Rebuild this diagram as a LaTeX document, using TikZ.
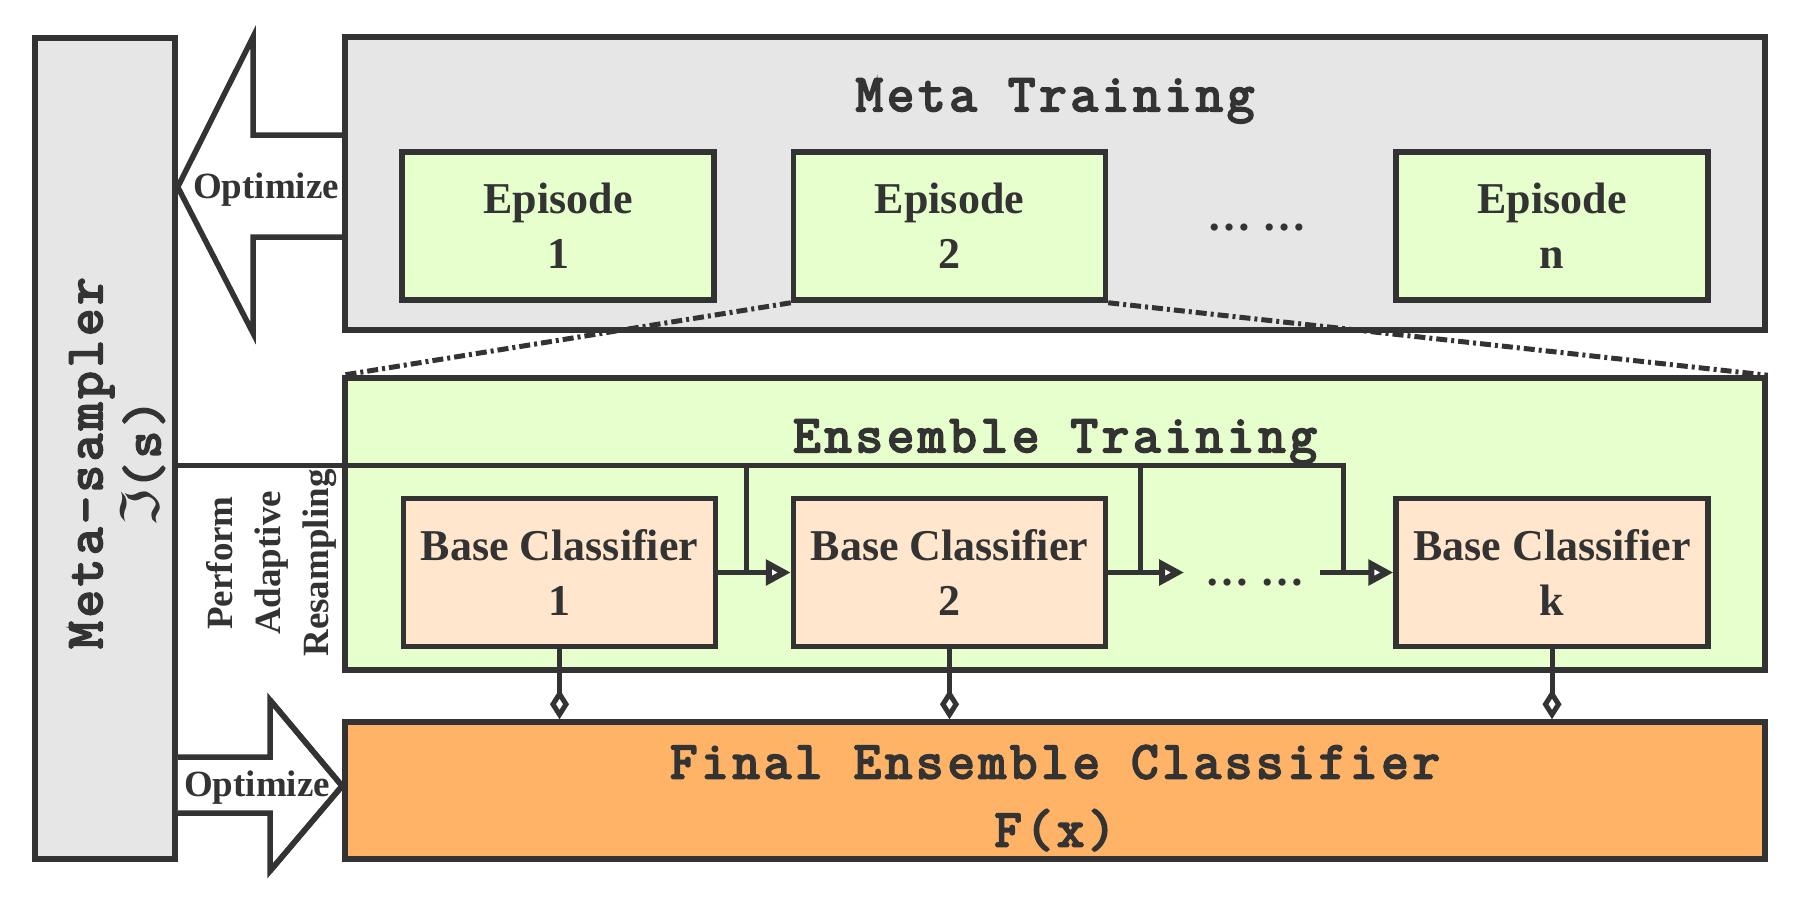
\documentclass[tikz,border=0pt]{standalone}
\usepackage{fontspec}
\setmainfont{Liberation Serif}
\newfontfamily\monof[FakeBold=4,LetterSpace=7.5]{Latin Modern Mono}
\newfontfamily\dejav{DejaVu Sans}
\usetikzlibrary{arrows.meta,calc}
\definecolor{lc}{HTML}{333333}
\definecolor{gbg}{HTML}{E6E6E6}
\definecolor{grn}{HTML}{E6FFCC}
\definecolor{peach}{HTML}{FFE6CC}
\definecolor{orng}{HTML}{FFB366}
\tikzset{
  box/.style={draw=lc, line width=5.5pt, rectangle, inner sep=0pt, text=lc, align=center},
  bigbox/.style={box, minimum width=1420pt, minimum height=292pt},
  smallbox/.style={box, minimum width=312pt, minimum height=148pt,
     font=\bfseries\fontsize{44}{55}\selectfont},
  titletxt/.style={text=lc, inner sep=0pt, font=\monof\fontsize{53}{68}\selectfont, align=center},
  serifb/.style={text=lc, inner sep=0pt, font=\bfseries\fontsize{44}{55}\selectfont},
  opttxt/.style={text=lc, inner sep=0pt, font=\bfseries\fontsize{37}{48}\selectfont, align=center},
  conn/.style={draw=lc, line width=5pt},
  fatarrow/.style={draw=lc, fill=white, line width=5.5pt, line join=miter},
  tri/.style={-{Triangle[length=25pt, width=25pt, fill=white, line width=6pt]}},
  dia/.style={-{Diamond[length=30pt, width=19pt, fill=white, line width=5pt]}},
  dashdot/.style={draw=lc, line width=5pt, dash pattern=on 11pt off 4pt on 3pt off 4pt}
}
\begin{document}
\begin{tikzpicture}[x=1pt,y=-1pt]
\useasboundingbox[fill=white] (0,0) rectangle (1800,898);

% left bar
\node[box, fill=gbg, minimum width=140pt, minimum height=821pt] (bar) at (105,448.5) {};

% optimize arrows
\draw[fatarrow] (343,135) -- (253,135) -- (253,37) -- (bar.east |- 0,187)
   -- (253,333) -- (253,237) -- (343,237);
\draw[fatarrow] (bar.east |- 0,757) -- (270,757) -- (270,700) -- (342,786)
   -- (270,871) -- (270,813) -- (bar.east |- 0,813);

% big boxes
\node[bigbox, fill=gbg, minimum height=293pt] (meta) at (1055,183.5) {};
\node[bigbox, fill=grn] (ens) at (1055,524) {};
\node[bigbox, fill=orng, minimum height=137pt] (final) at (1055,790.5) {};

% tip of the arrow into the final box
\draw[fatarrow, fill=none] (270,700) -- (final.west |- 0,786) -- (270,871);

% titles
\node[titletxt, anchor=base] (metat) at (1055,111) {Meta Training};
\node[titletxt, anchor=base] (enst) at (1055,452) {Ensemble Training};
\node[titletxt] (finalt) at (1055,798) {Final Ensemble Classifier\\F(x)};

% meta-sampler label
\node[titletxt, rotate=90, font=\monof\fontsize{53}{58}\selectfont] (mst) at (117,463) {Meta-sampler\\{\dejav ℑ}(s)};

% optimize labels
\node[opttxt] (opt1) at (266,190) {Optimize};
\node[opttxt] (opt2) at (257,788) {Optimize};
\node[opttxt, rotate=90] (par) at (272,563) {Perform\\Adaptive\\Resampling};

% episodes
\node[smallbox, fill=grn] (ep1) at (558,226) {Episode\\1};
\node[smallbox, fill=grn] (ep2) at (949.5,226) {Episode\\2};
\node[smallbox, fill=grn] (epn) at (1552,226) {Episode\\n};
\node[serifb, anchor=base] (edots) at (1257,230) {… …};

% base classifiers
\node[smallbox, fill=peach] (bc1) at (559.5,572.5) {Base Classifier\\1};
\node[smallbox, fill=peach] (bc2) at (949.5,572.5) {Base Classifier\\2};
\node[smallbox, fill=peach] (bck) at (1552,572.5) {Base Classifier\\k};
\node[serifb, anchor=base] (bdots) at (1255,585) {… …};

% dash-dot zoom lines
\draw[dashdot] (ep2.south west) -- (ens.north west);
\draw[dashdot] (ep2.south east) -- (ens.north east);

% resampling connectors
\coordinate (t1) at (746,465);
\coordinate (t2) at (1140,465);
\coordinate (t3) at (1343,465);
\coordinate (d1) at (1184,572.5);
\coordinate (d2) at (1320,572.5);
\draw[conn] (bar.east |- t1) -- (t3) -- (t3 |- bck.west);
\draw[conn] (t1) -- (t1 |- bc1.east);
\draw[conn] (t2) -- (t2 |- bc2.east);
\draw[conn, tri] (bc1.east) -- (bc2.west);
\draw[conn, tri] (bc2.east) -- (d1);
\draw[conn, tri] (d2) -- (bck.west);

% aggregation connectors
\draw[conn, dia] (bc1.south) -- (bc1.south |- final.north);
\draw[conn, dia] (bc2.south) -- (bc2.south |- final.north);
\draw[conn, dia] (bck.south) -- (bck.south |- final.north);
\end{tikzpicture}
\end{document}
